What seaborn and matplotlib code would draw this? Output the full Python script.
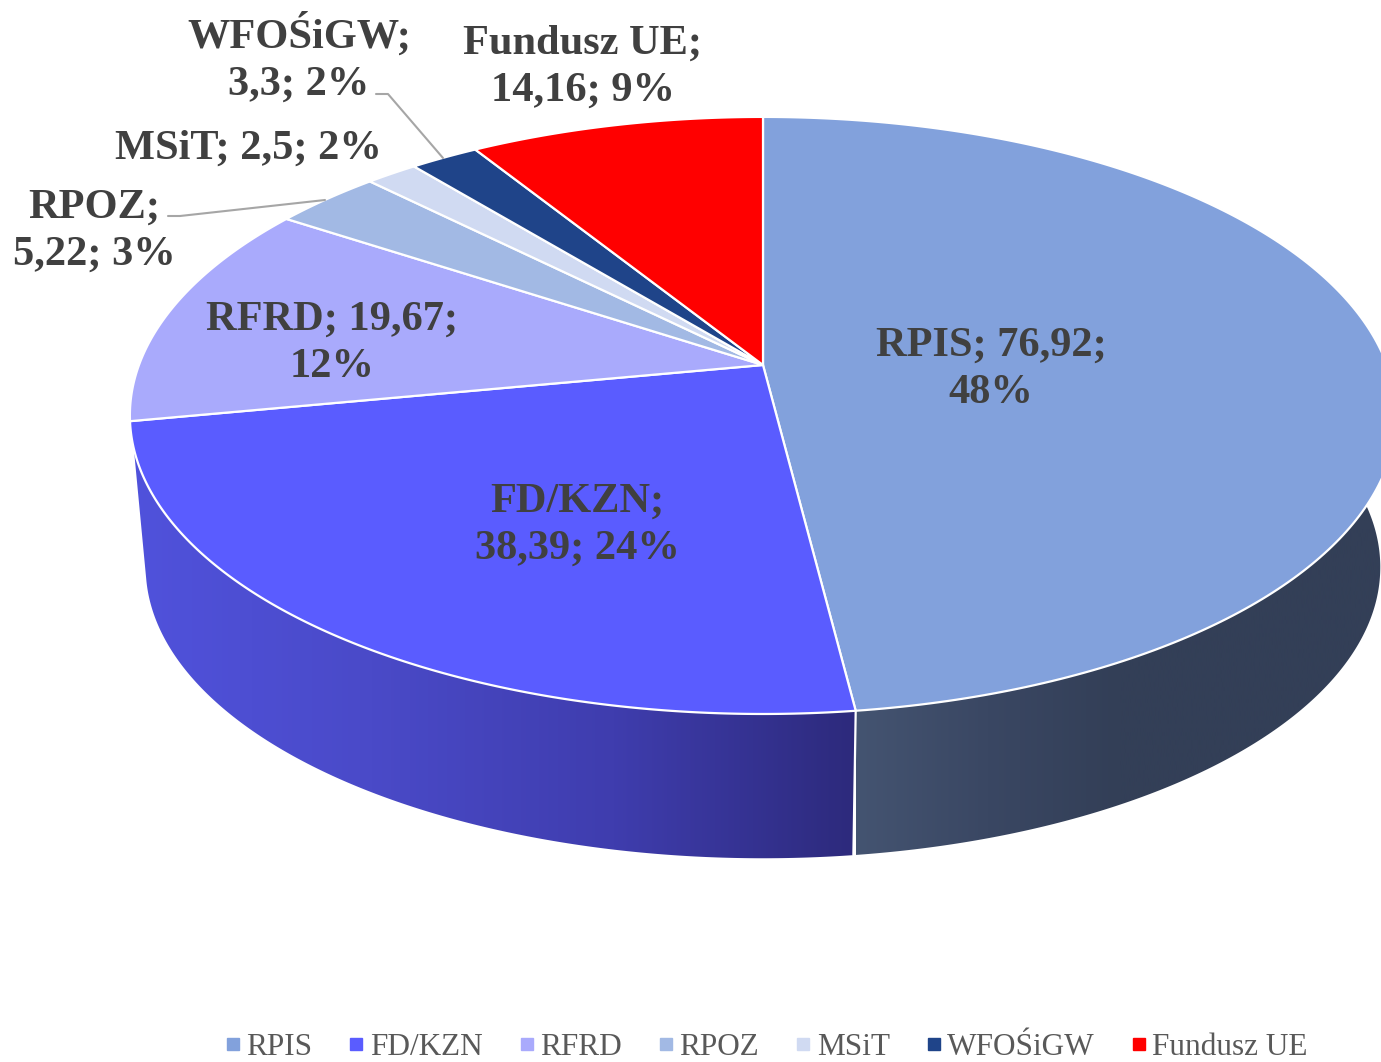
import numpy as np
import matplotlib
matplotlib.use("Agg")
import matplotlib.pyplot as plt
from matplotlib.lines import Line2D
from matplotlib.patches import Polygon
import seaborn as sns

# ---- data ----
categories = ["RPIS", "FD/KZN", "RFRD", "RPOZ", "MSiT", "WFOŚiGW", "Fundusz UE"]
values = [76.92, 38.39, 19.67, 5.22, 2.5, 3.3, 14.16]
colors = ["#82A1DC", "#5A5CFF", "#A9AAFC", "#A2B9E4", "#D0DAF2", "#1F4489", "#FF0000"]

# ---- styles ----
sns.set_theme(style="white")
plt.rcParams["font.family"] = ["Liberation Serif", "DejaVu Serif"]
TXT = "#404040"
W, H = 1381, 1062

fig = plt.figure(figsize=(W / 100, H / 100), dpi=100)
ax = fig.add_axes([0, 0, 1, 1])
ax.set_xlim(0, W)
ax.set_ylim(H, 0)
ax.axis("off")

# perspective disc geometry (pixel scale of the axes)
CX, CY_TOP, CY_BOT = 763.0, 365.0, 518.0
BX, BY, K, S = 624.0, 290.0, 0.169, 0.975


def rim(theta_deg, bottom=False):
    t = np.radians(np.asarray(theta_deg, dtype=float))
    u, v = np.sin(t), np.cos(t)
    d = 1 + K * v
    s = S if bottom else 1.0
    y0 = CY_BOT if bottom else CY_TOP
    return np.column_stack([CX + s * BX * u / d, y0 - s * BY * v / d])


vals = np.array(values)
edges = np.concatenate([[0], np.cumsum(vals)]) / vals.sum() * 360


def wall(th_top, th_bot, cols, x0, x1):
    top = rim(np.linspace(*th_top, 200))
    bot = rim(np.linspace(*th_bot, 200), bottom=True)
    poly = Polygon(np.vstack([top, bot[::-1]]), closed=True, fc="none", ec="none",
                   transform=ax.transData)
    ax.add_patch(poly)
    cmap = sns.blend_palette(cols, as_cmap=True)
    im = ax.imshow(np.linspace(0, 1, 256)[None, :], extent=(x0, x1, H, 0), cmap=cmap,
                   aspect="auto", zorder=1, interpolation="bilinear")
    im.set_clip_path(poly)


ax.set_autoscale_on(False)
# side walls
wall((edges[1], 85), (edges[1], 85), ["#445471", "#3A4763", "#333F57", "#333F57", "#333F57"], 856, 1381)
wall((254, edges[1]), (258, edges[1]), ["#5052DC", "#4A4AC8", "#3F3DAE", "#2D2A7C"], 130, 856)

# white seam between the walls
ax.plot(*np.vstack([rim([edges[1]]), rim([edges[1]], bottom=True)]).T, color="white", lw=1.6, zorder=2)

# top face wedges
for i, col in enumerate(colors):
    arc = rim(np.linspace(edges[i], edges[i + 1], 240))
    pts = np.vstack([[CX, CY_TOP], arc])
    ax.fill(pts[:, 0], pts[:, 1], facecolor=col, edgecolor="white", lw=1.6,
            joinstyle="round", zorder=3)

# data labels
pcts = np.round(vals / vals.sum() * 100).astype(int)
num = [f"{v:g}".replace(".", ",") for v in values]
fs = 30.5
label_specs = [
    (f"{categories[0]}; {num[0]};\n{pcts[0]}%", 991, 369),
    (f"{categories[1]};\n{num[1]}; {pcts[1]}%", 577, 525),
    (f"{categories[2]}; {num[2]};\n{pcts[2]}%", 332, 343),
    (f"{categories[3]};\n{num[3]}; {pcts[3]}%", 94, 231),
    (f"{categories[4]}; {num[4]}; {pcts[4]}%", 248, 149),
    (f"{categories[5]};\n{num[5]}; {pcts[5]}%", 299, 58),
    (f"{categories[6]};\n{num[6]}; {pcts[6]}%", 583, 67),
]
for s, x, y in label_specs:
    ax.text(x, y, s, ha="center", va="center", fontsize=fs, fontweight="bold",
            color=TXT, linespacing=1.33, zorder=5)

# leader lines
ax.plot([376, 388, 443], [94, 94, 158], color="#A6A6A6", lw=1.5, zorder=4)
ax.plot([168, 180, 325], [216, 216, 200], color="#A6A6A6", lw=1.5, zorder=4)

# legend
handles = [Line2D([], [], ls="none", marker="s", ms=8, mfc=c, mec=c, label=n)
           for n, c in zip(categories, colors)]
ax.legend(handles=handles, ncol=7, frameon=False, loc="center left",
          bbox_to_anchor=(217 / W, 1 - 1047.5 / H), fontsize=22.5, labelcolor="#595959",
          handletextpad=-0.06, columnspacing=0.9, handlelength=1.0, borderpad=0, borderaxespad=0)

fig.savefig("out.png", dpi=100, facecolor="white")
